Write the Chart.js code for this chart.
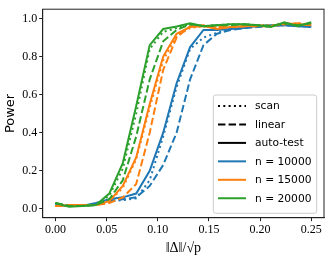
<!DOCTYPE html>
<html>
<head>
<meta charset="utf-8">
<script src="https://cdn.jsdelivr.net/npm/chart.js@4.4.1/dist/chart.umd.min.js"></script>
<style>
  html, body { margin: 0; padding: 0; background: #fff; }
  #wrap { width: 332px; height: 260px; }
</style>
</head>
<body>
<div id="wrap"><canvas id="powerChart"></canvas></div>
<script>
// x values: ||Delta|| / sqrt(p)
const deltas = [0, 0.0132, 0.0263, 0.0395, 0.0526, 0.0658, 0.0789, 0.0921, 0.1053, 0.1184,
                0.1316, 0.1447, 0.1579, 0.1711, 0.1842, 0.1974, 0.2105, 0.2237, 0.2368, 0.25];
const xTicks = [0, 0.05, 0.1, 0.15, 0.2, 0.25];
const yTicks = [0, 0.2, 0.4, 0.6, 0.8, 1.0];

const methods = ['scan', 'linear', 'auto-test'];
const sampleSizes = ['n = 10000', 'n = 15000', 'n = 20000'];

// power, n = 10000
const scan10k   = [0.02, 0.015, 0.015, 0.025, 0.04, 0.045, 0.055, 0.15, 0.38, 0.64, 0.84, 0.90, 0.925, 0.945, 0.95, 0.96, 0.965, 0.965, 0.96, 0.96];
const linear10k = [0.02, 0.015, 0.015, 0.02, 0.04, 0.05, 0.06, 0.12, 0.23, 0.40, 0.68, 0.86, 0.92, 0.94, 0.95, 0.955, 0.96, 0.965, 0.965, 0.96];
const auto10k   = [0.02, 0.015, 0.015, 0.03, 0.05, 0.06, 0.08, 0.20, 0.40, 0.66, 0.85, 0.94, 0.94, 0.945, 0.95, 0.96, 0.965, 0.965, 0.96, 0.955];
// power, n = 15000
const scan15k   = [0.015, 0.015, 0.02, 0.02, 0.04, 0.11, 0.26, 0.53, 0.78, 0.91, 0.95, 0.96, 0.95, 0.955, 0.96, 0.965, 0.965, 0.97, 0.975, 0.97];
const linear15k = [0.015, 0.02, 0.02, 0.02, 0.03, 0.06, 0.13, 0.40, 0.73, 0.90, 0.96, 0.965, 0.955, 0.955, 0.96, 0.96, 0.96, 0.97, 0.975, 0.965];
const auto15k   = [0.015, 0.02, 0.02, 0.02, 0.04, 0.12, 0.27, 0.55, 0.80, 0.92, 0.955, 0.96, 0.945, 0.955, 0.96, 0.965, 0.96, 0.975, 0.97, 0.965];
// power, n = 20000
const scan20k   = [0.03, 0.015, 0.015, 0.02, 0.07, 0.21, 0.50, 0.84, 0.93, 0.95, 0.97, 0.96, 0.965, 0.97, 0.97, 0.965, 0.96, 0.975, 0.965, 0.975];
const linear20k = [0.03, 0.015, 0.015, 0.02, 0.05, 0.15, 0.38, 0.68, 0.88, 0.94, 0.97, 0.96, 0.965, 0.965, 0.97, 0.965, 0.96, 0.975, 0.965, 0.975];
const auto20k   = [0.03, 0.01, 0.015, 0.02, 0.08, 0.24, 0.54, 0.86, 0.945, 0.958, 0.975, 0.96, 0.965, 0.97, 0.97, 0.965, 0.955, 0.98, 0.96, 0.98];

const colors = ['#1f77b4', '#ff7f0e', '#2ca02c'];
const dashes = { 'scan': [2, 3.3], 'linear': [7.4, 3.2], 'auto-test': [] };

const seriesBySize = [
    [scan10k, linear10k, auto10k],
    [scan15k, linear15k, auto15k],
    [scan20k, linear20k, auto20k]
];

const datasets = [];
let k = 0;
seriesBySize.forEach((group, i) => {
    group.forEach((values, j) => {
        datasets.push({
            label: methods[j] + ', ' + sampleSizes[i],
            data: values.map((v, idx) => ({ x: deltas[idx], y: v })),
            borderColor: colors[i],
            borderWidth: 2,
            borderDash: dashes[methods[j]],
            borderCapStyle: 'butt',
            pointRadius: 0,
            tension: 0,
            fill: false,
            order: 100 - k
        });
        k++;
    });
});

// matplotlib-ish legend inside the axes, lower right
const legendItems = [
    { text: 'scan', color: '#000', dash: dashes['scan'] },
    { text: 'linear', color: '#000', dash: dashes['linear'] },
    { text: 'auto-test', color: '#000', dash: [] },
    { text: sampleSizes[0], color: colors[0], dash: [] },
    { text: sampleSizes[1], color: colors[1], dash: [] },
    { text: sampleSizes[2], color: colors[2], dash: [] }
];

const boxLegend = {
    id: 'boxLegend',
    afterDatasetsDraw(chart) {
        const { ctx, chartArea } = chart;
        const w = 103.4, h = 118.3;
        const x = chartArea.right - 7.3 - w;
        const y = chartArea.bottom - 4.4 - h;
        ctx.save();
        ctx.beginPath();
        ctx.roundRect(x, y, w, h, 2.5);
        ctx.fillStyle = 'rgba(255,255,255,0.85)';
        ctx.fill();
        ctx.strokeStyle = '#cccccc';
        ctx.lineWidth = 1;
        ctx.stroke();
        ctx.font = '10.7px "DejaVu Sans"';
        ctx.textBaseline = 'middle';
        legendItems.forEach((item, i) => {
            const rowY = y + 11 + i * 18.45;
            ctx.beginPath();
            ctx.setLineDash(item.dash);
            ctx.lineCap = 'butt';
            ctx.strokeStyle = item.color;
            ctx.lineWidth = 2;
            ctx.moveTo(x + 4.7, rowY);
            ctx.lineTo(x + 32.7, rowY);
            ctx.stroke();
            ctx.setLineDash([]);
            ctx.fillStyle = '#000';
            ctx.fillText(item.text, x + 41.7, rowY + 0.5);
        });
        ctx.restore();
    }
};

const axesFrame = {
    id: 'axesFrame',
    afterDraw(chart) {
        const { ctx, chartArea } = chart;
        ctx.save();
        ctx.strokeStyle = '#222';
        ctx.lineWidth = 1;
        ctx.strokeRect(chartArea.left, chartArea.top,
                       chartArea.right - chartArea.left, chartArea.bottom - chartArea.top);
        ctx.restore();
    }
};

const tickFont = { family: '"Liberation Serif"', size: 12 };

new Chart(document.getElementById('powerChart').getContext('2d'), {
    type: 'line',
    data: { datasets: datasets },
    options: {
        responsive: true,
        maintainAspectRatio: false,
        animation: false,
        layout: { padding: { top: 8.3, right: 8, left: 0, bottom: 0 } },
        plugins: {
            legend: { display: false },
            tooltip: { enabled: false }
        },
        scales: {
            x: {
                type: 'linear',
                min: -0.0125,
                max: 0.2625,
                afterFit: (scale) => { scale.height = 42.3; },
                afterBuildTicks: (scale) => { scale.ticks = xTicks.map(v => ({ value: v })); },
                grid: { display: true, drawOnChartArea: false, drawTicks: true, tickLength: 3.5, color: '#222' },
                border: { display: true, color: '#222' },
                ticks: {
                    color: '#000',
                    font: tickFont,
                    padding: 1,
                    maxRotation: 0,
                    callback: (v) => Number(v).toFixed(2)
                },
                title: {
                    display: true,
                    text: '‖Δ‖/√p',
                    color: '#000',
                    font: { family: '"Liberation Serif"', size: 14 },
                    padding: { top: 0, bottom: 3.5 }
                }
            },
            y: {
                type: 'linear',
                min: -0.047,
                max: 1.049,
                afterFit: (scale) => { scale.width = 42.7; },
                afterBuildTicks: (scale) => { scale.ticks = yTicks.map(v => ({ value: v })); },
                grid: { display: true, drawOnChartArea: false, drawTicks: true, tickLength: 3.5, color: '#222' },
                border: { display: true, color: '#222' },
                ticks: {
                    color: '#000',
                    font: tickFont,
                    padding: 2,
                    callback: (v) => Number(v).toFixed(1)
                },
                title: {
                    display: true,
                    text: 'Power',
                    color: '#000',
                    font: { family: '"DejaVu Sans"', size: 13 },
                    padding: { top: 3.2, bottom: 0 }
                }
            }
        }
    },
    plugins: [boxLegend, axesFrame]
});
</script>
</body>
</html>
